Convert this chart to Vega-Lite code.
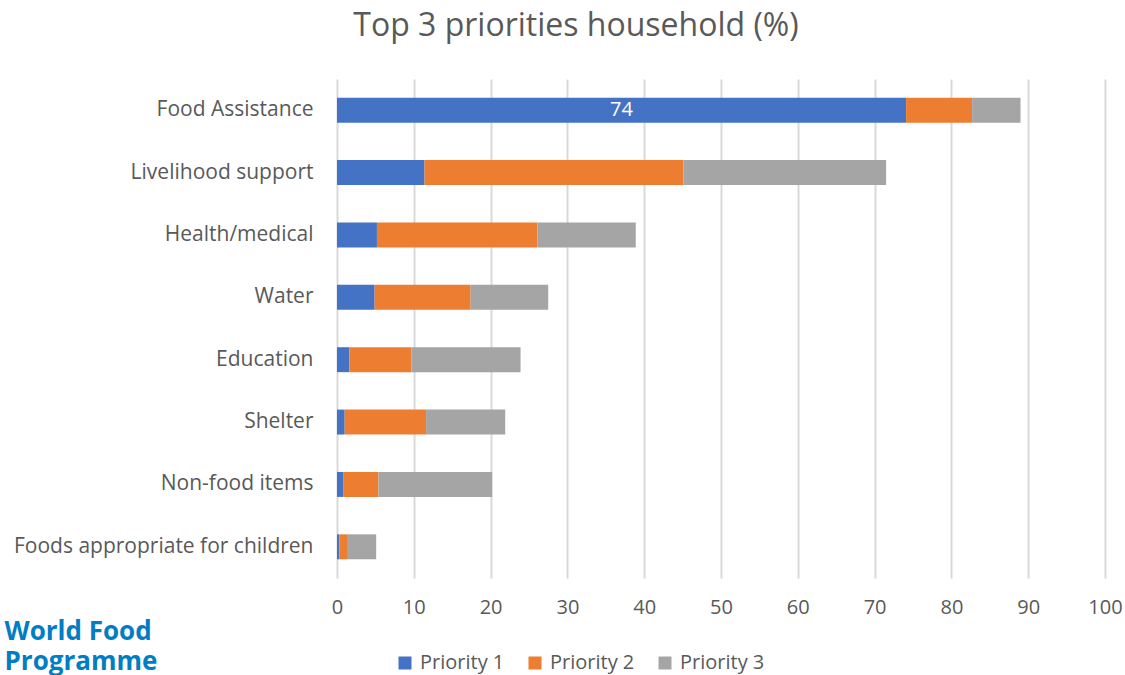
{
  "$schema": "https://vega.github.io/schema/vega-lite/v6.json",
  "autosize": {"type": "none"},
  "width": 768,
  "height": 499,
  "padding": {"left": 337, "top": 79, "right": 20, "bottom": 97},
  "background": "white",
  "config": {"font": "Open Sans", "view": {"stroke": null}},
  "title": {
    "text": "Top 3 priorities household (%)",
    "fontSize": 32,
    "fontWeight": "normal",
    "color": "#595959",
    "anchor": "middle",
    "frame": "group",
    "dx": -145,
    "offset": 36
  },
  "data": {
    "values": [
      {"category": "Food Assistance", "priority": "Priority 1", "value": 74.1, "label": "74"},
      {"category": "Food Assistance", "priority": "Priority 2", "value": 8.6},
      {"category": "Food Assistance", "priority": "Priority 3", "value": 6.3},
      {"category": "Livelihood support", "priority": "Priority 1", "value": 11.4},
      {"category": "Livelihood support", "priority": "Priority 2", "value": 33.7},
      {"category": "Livelihood support", "priority": "Priority 3", "value": 26.4},
      {"category": "Health/medical", "priority": "Priority 1", "value": 5.2},
      {"category": "Health/medical", "priority": "Priority 2", "value": 20.9},
      {"category": "Health/medical", "priority": "Priority 3", "value": 12.8},
      {"category": "Water", "priority": "Priority 1", "value": 4.9},
      {"category": "Water", "priority": "Priority 2", "value": 12.5},
      {"category": "Water", "priority": "Priority 3", "value": 10.1},
      {"category": "Education", "priority": "Priority 1", "value": 1.6},
      {"category": "Education", "priority": "Priority 2", "value": 8.1},
      {"category": "Education", "priority": "Priority 3", "value": 14.2},
      {"category": "Shelter", "priority": "Priority 1", "value": 1.0},
      {"category": "Shelter", "priority": "Priority 2", "value": 10.6},
      {"category": "Shelter", "priority": "Priority 3", "value": 10.3},
      {"category": "Non-food items", "priority": "Priority 1", "value": 0.8},
      {"category": "Non-food items", "priority": "Priority 2", "value": 4.6},
      {"category": "Non-food items", "priority": "Priority 3", "value": 14.8},
      {"category": "Foods appropriate for children", "priority": "Priority 1", "value": 0.3},
      {"category": "Foods appropriate for children", "priority": "Priority 2", "value": 1.0},
      {"category": "Foods appropriate for children", "priority": "Priority 3", "value": 3.8}
    ]
  },
  "encoding": {
    "y": {
      "field": "category",
      "type": "nominal",
      "sort": ["Food Assistance", "Livelihood support", "Health/medical", "Water", "Education", "Shelter", "Non-food items", "Foods appropriate for children"],
      "scale": {"paddingInner": 0.6, "paddingOuter": 0.3},
      "axis": {
        "title": null,
        "domain": false,
        "ticks": false,
        "labelFontSize": 21,
        "labelColor": "#595959",
        "labelPadding": 24,
        "labelLimit": 400
      }
    }
  },
  "layer": [
    {
      "mark": {"type": "bar"},
      "encoding": {
        "x": {
          "field": "value",
          "type": "quantitative",
          "stack": "zero",
          "scale": {"domain": [0, 100], "nice": false},
          "axis": {
            "values": [0, 10, 20, 30, 40, 50, 60, 70, 80, 90, 100],
            "domain": false,
            "ticks": false,
            "grid": true,
            "gridColor": "#d9d9d9",
            "gridWidth": 2,
            "labelFontSize": 20,
            "labelColor": "#595959",
            "labelPadding": 19,
            "labelFlush": false,
            "title": ["World Food", "Programme"],
            "titleFont": "Open Sans",
            "titleFontSize": 26,
            "titleFontWeight": "bold",
            "titleColor": "#007DC3",
            "titleAlign": "left",
            "titleAnchor": "start",
            "titleBaseline": "top",
            "titleLineHeight": 30,
            "titleX": -333,
            "titleY": 40
          }
        },
        "color": {
          "field": "priority",
          "type": "nominal",
          "scale": {"domain": ["Priority 1", "Priority 2", "Priority 3"], "range": ["#4472C4", "#ED7D31", "#A5A5A5"]},
          "legend": {
            "title": null,
            "orient": "none",
            "direction": "horizontal",
            "legendX": 58,
            "legendY": 574,
            "symbolType": "square",
            "symbolSize": 169,
            "symbolStrokeWidth": 0,
            "labelFontSize": 20,
            "labelColor": "#595959",
            "labelOffset": 5,
            "columnPadding": 20
          }
        },
        "order": {"field": "priority", "type": "nominal"}
      }
    },
    {
      "transform": [
        {"filter": "datum.label != null"},
        {"calculate": "datum.value / 2", "as": "mid"}
      ],
      "mark": {"type": "text", "color": "white", "fontSize": 20, "align": "center", "baseline": "middle"},
      "encoding": {
        "x": {"field": "mid", "type": "quantitative"},
        "text": {"field": "label"}
      }
    }
  ]
}
